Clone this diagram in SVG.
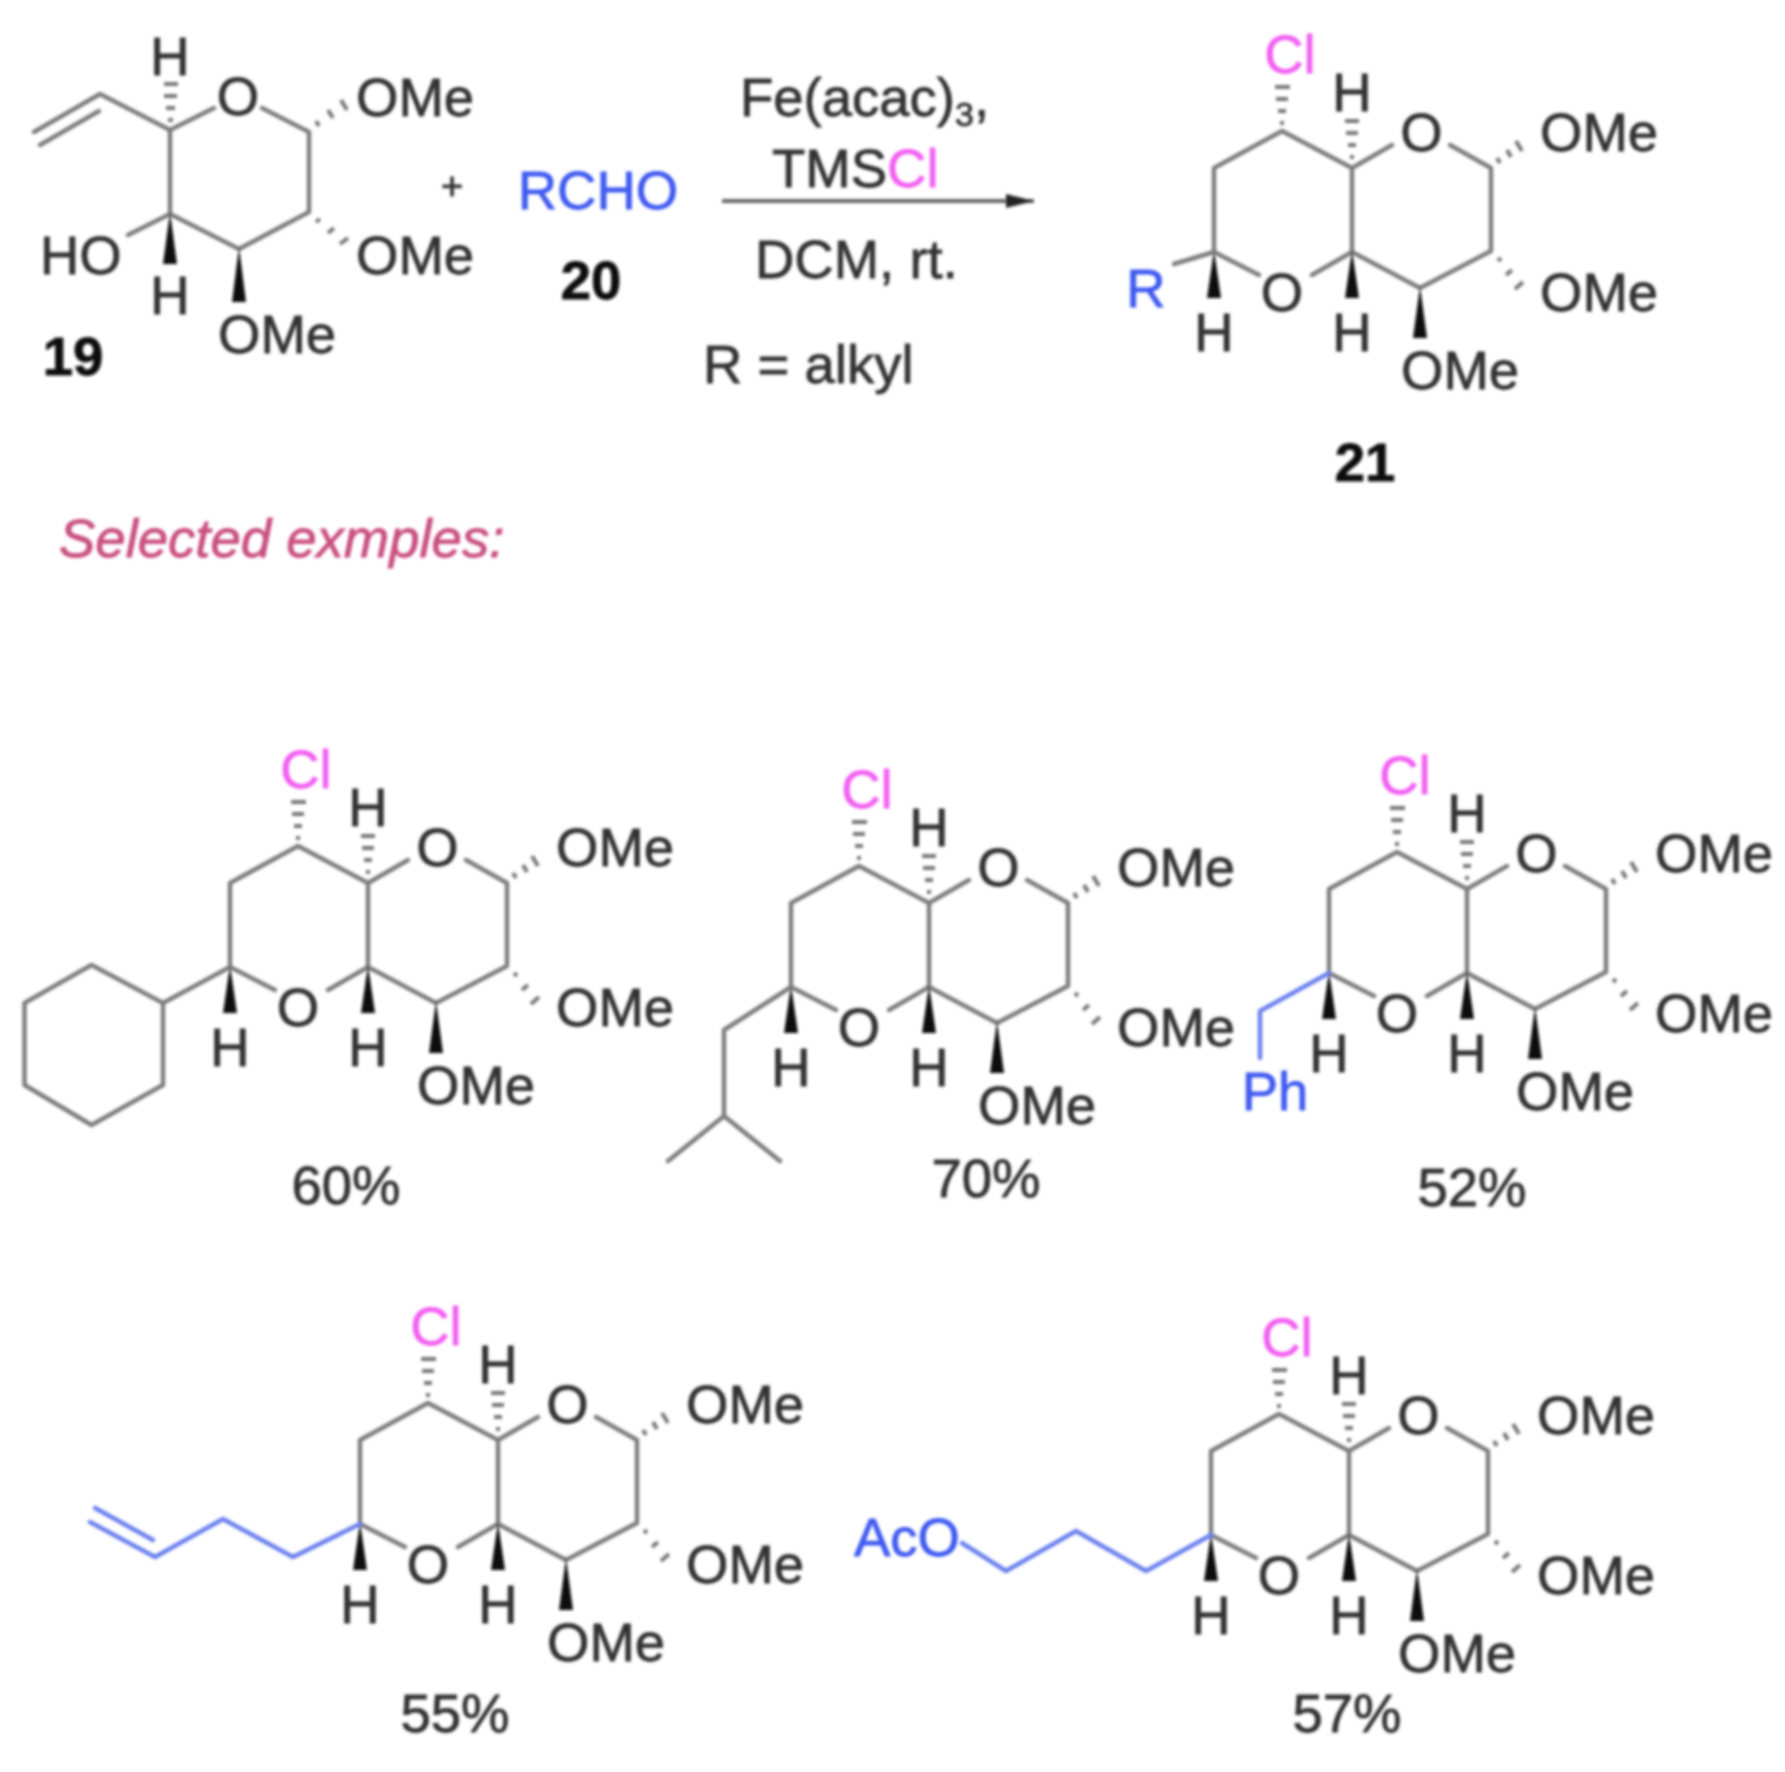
<svg xmlns="http://www.w3.org/2000/svg" width="1785" height="1772" viewBox="0 0 1785 1772">
<style>
text{font-family:"Liberation Sans",Arial,sans-serif;font-size:54.5px;fill:#333;stroke:#333;stroke-width:.8}
.m{text-anchor:middle}
.b{font-weight:bold;fill:#111;stroke:#111}
.cl{fill:#f25ff2;stroke:#f25ff2}
.bl{fill:#3f5af0;stroke:#3f5af0}
.bond{fill:none;stroke:#7d7d7d;stroke-width:4.5;stroke-linejoin:round;stroke-linecap:round}
.blue{fill:none;stroke:#6b80ee;stroke-width:4.5;stroke-linejoin:round;stroke-linecap:round}
.w{fill:#111}
.h{fill:none;stroke:#777;stroke-width:4}
</style>
<defs>
<filter id="soft" x="0" y="0" width="1785" height="1772" filterUnits="userSpaceOnUse"><feGaussianBlur stdDeviation="1.4"/></filter>
<marker id="arrow" markerUnits="userSpaceOnUse" markerWidth="30" markerHeight="16" refX="28" refY="8" orient="auto"><path d="M0 1L28 8L0 15Z" fill="#222"/></marker>
<g id="core">
<path class="bond" d="M275 990L230 967V883L298 846L368 883L408 860M368 883V967L328 990M368 967L436 1003L507 966V883L466 860"/>
<path class="w" d="M230 965L237 1013H223Z"/>
<path class="w" d="M368 965L375 1013H361Z"/>
<path class="w" d="M436 1001L443 1053H429Z"/>
<path class="h" d="M296 838h4M294 826h8M292 814h12M291 802h15M366 872h4M364 860h8M362 848h12M361 836h14M516 878l-3-5M527 872l-4-7M538 866l-6-10M517 973l-3 3M528 985l-6 5M539 997l-8 7"/>
</g>
</defs>
<g filter="url(#soft)">
<g id="connectors">
<path d="M722 201H1034" fill="none" stroke="#666" stroke-width="4" marker-end="url(#arrow)"/>
</g>
<g id="compound-19">
<path class="bond" d="M34 132L100 94L170 130L214 108M262 108L309 132V212L239 249L170 214V130M40 145L99 111M128 235L170 214"/>
<path class="w" d="M170 212L177 264H163Z"/>
<path class="w" d="M239 247L246 302H232Z"/>
<path class="h" d="M168 120h5M166 108h9M164 96h13M164 84h14M319 126l-3-5M333 118l-5-8M347 110l-6-10M320 219l-4 3M334 228l-6 5M348 238l-8 6"/>
<text class="m" x="170" y="75">H</text>
<text class="m" x="238" y="115">O</text>
<text x="356" y="116">OMe</text>
<text x="356" y="274">OMe</text>
<text x="40" y="274">HO</text>
<text class="m" x="170" y="314">H</text>
<text x="218" y="353">OMe</text>
<text class="b m" x="73" y="375">19</text>
</g>
<g id="plus"><text class="m" x="452" y="199" style="font-size:38px">+</text></g>
<g id="compound-20">
<text class="bl m" x="598" y="209">RCHO</text>
<text class="b m" x="591" y="299">20</text>
</g>
<g id="conditions">
<text x="740" y="116">Fe(acac)<tspan dy="10" style="font-size:34px">3</tspan><tspan dy="-10">,</tspan></text>
<text x="772" y="187">TMS<tspan class="cl">Cl</tspan></text>
<text x="755" y="278">DCM, rt.</text>
<text x="703" y="383">R = alkyl</text>
</g>
<g id="label-selected"><text x="59" y="557" style="font-style:italic;fill:#c94f80;stroke:#c94f80">Selected exmples:</text></g>
<g id="compound-21" transform="translate(984 -715)">
<use href="#core"/>
<path class="bond" d="M230 967L190 979"/>
<text class="cl m" x="306" y="788">Cl</text><text class="m" x="368" y="826">H</text>
<text class="m" x="437.5" y="866">O</text><text x="556" y="866">OMe</text>
<text class="m" x="298" y="1026">O</text><text x="556" y="1026">OMe</text>
<text class="m" x="230" y="1066">H</text><text class="m" x="368" y="1066">H</text>
<text x="417" y="1104">OMe</text>
<text class="bl m" x="162" y="1022">R</text>
<text class="b m" x="381" y="1196">21</text>
</g>
<g id="product-60">
<use href="#core"/>
<path class="bond" d="M230 967L163 1003V1085L91.5 1125L24.5 1085V1003L91.5 965L163 1003"/>
<text class="cl m" x="306" y="788">Cl</text><text class="m" x="368" y="826">H</text>
<text class="m" x="437.5" y="866">O</text><text x="556" y="866">OMe</text>
<text class="m" x="298" y="1026">O</text><text x="556" y="1026">OMe</text>
<text class="m" x="230" y="1066">H</text><text class="m" x="368" y="1066">H</text>
<text x="417" y="1104">OMe</text>
<text class="m" x="346" y="1204">60%</text>
</g>
<g id="product-70" transform="translate(561 20)">
<use href="#core"/>
<path class="bond" d="M230 967L163 1010V1096L107 1141M163 1096L219 1141"/>
<text class="cl m" x="306" y="788">Cl</text><text class="m" x="368" y="826">H</text>
<text class="m" x="437.5" y="866">O</text><text x="556" y="866">OMe</text>
<text class="m" x="298" y="1026">O</text><text x="556" y="1026">OMe</text>
<text class="m" x="230" y="1066">H</text><text class="m" x="368" y="1066">H</text>
<text x="417" y="1104">OMe</text>
<text class="m" x="425" y="1177">70%</text>
</g>
<g id="product-52" transform="translate(1099 6)">
<use href="#core"/>
<path class="blue" d="M230 967L161 1005V1052"/>
<text class="cl m" x="306" y="788">Cl</text><text class="m" x="368" y="826">H</text>
<text class="m" x="437.5" y="866">O</text><text x="556" y="866">OMe</text>
<text class="m" x="298" y="1026">O</text><text x="556" y="1026">OMe</text>
<text class="m" x="230" y="1066">H</text><text class="m" x="368" y="1066">H</text>
<text x="417" y="1104">OMe</text>
<text class="bl m" x="176" y="1104">Ph</text>
<text class="m" x="373" y="1200">52%</text>
</g>
<g id="product-55" transform="translate(130 557)">
<use href="#core"/>
<path class="blue" d="M230 967L163 1000L93 962L25 1000L-40 965M-35 951L23 983"/>
<text class="cl m" x="306" y="788">Cl</text><text class="m" x="368" y="826">H</text>
<text class="m" x="437.5" y="866">O</text><text x="556" y="866">OMe</text>
<text class="m" x="298" y="1026">O</text><text x="556" y="1026">OMe</text>
<text class="m" x="230" y="1066">H</text><text class="m" x="368" y="1066">H</text>
<text x="417" y="1104">OMe</text>
<text class="m" x="325" y="1175">55%</text>
</g>
<g id="product-57" transform="translate(981 568)">
<use href="#core"/>
<path class="blue" d="M230 967L165 1003L95 963L25 1003L-19 975"/>
<text class="cl m" x="306" y="788">Cl</text><text class="m" x="368" y="826">H</text>
<text class="m" x="437.5" y="866">O</text><text x="556" y="866">OMe</text>
<text class="m" x="298" y="1026">O</text><text x="556" y="1026">OMe</text>
<text class="m" x="230" y="1066">H</text><text class="m" x="368" y="1066">H</text>
<text x="417" y="1104">OMe</text>
<text class="bl" x="-127" y="988">AcO</text>
<text class="m" x="366" y="1164">57%</text>
</g>
</g>
</svg>
